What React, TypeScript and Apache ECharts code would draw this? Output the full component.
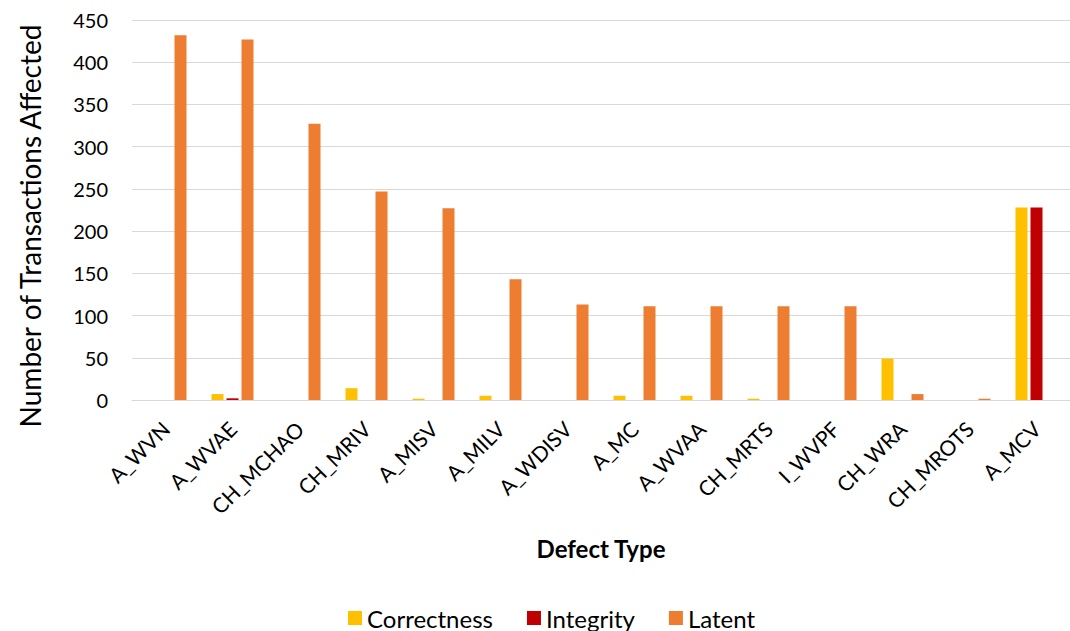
import React, { useEffect, useRef } from "react";
import * as echarts from "echarts";

const categories = ["A_WVN", "A_WVAE", "CH_MCHAO", "CH_MRIV", "A_MISV", "A_MILV", "A_WDISV", "A_MC", "A_WVAA", "CH_MRTS", "I_WVPF", "CH_WRA", "CH_MROTS", "A_MCV"];
const correctness = [0, 7, 0, 14, 1.5, 5, 0, 5, 5, 1.5, 0, 49, 0, 228];
const integrity = [0, 2, 0, 0, 0, 0, 0, 0, 0, 0, 0, 0, 0, 228];
const latent = [432, 427, 327, 247, 227, 143, 113, 111, 111, 111, 111, 7, 1.5, 0];
const yTicks = [0, 50, 100, 150, 200, 250, 300, 350, 400, 450];

const FONT = "Lato";

export default function App() {
  const ref = useRef<HTMLDivElement>(null);
  useEffect(() => {
    if (!ref.current) return;
    const chart = echarts.init(ref.current, null, { renderer: "svg" });
    const barCommon = { type: "bar" as const, barWidth: 12, barGap: "25%" };
    chart.setOption({
      animation: false,
      textStyle: { fontFamily: FONT },
      grid: { left: 132, right: -17, top: 20, bottom: 231, containLabel: false },
      legend: {
        left: 348,
        top: 606,
        padding: 0,
        itemWidth: 14,
        itemHeight: 14,
        itemGap: 34,
        icon: "rect",
        textStyle: { fontFamily: FONT, fontSize: 24, color: "#000" },
        data: ["Correctness", "Integrity", "Latent"],
      },
      xAxis: {
        type: "category",
        data: categories,
        name: "Defect Type",
        nameLocation: "middle",
        nameGap: 136,
        nameTextStyle: { fontFamily: FONT, fontSize: 24, fontWeight: "bold", color: "#000" },
        axisLine: { lineStyle: { color: "#d9d9d9", width: 1 } },
        axisTick: { show: false },
        axisLabel: { rotate: 45, fontSize: 21, color: "#000", margin: 25, interval: 0, fontFamily: FONT },
      },
      yAxis: {
        type: "value",
        min: 0,
        max: 450,
        interval: 50,
        name: "Number of Transactions Affected",
        nameLocation: "middle",
        nameGap: 88,
        nameTextStyle: { fontFamily: FONT, fontSize: 28, color: "#000", padding: [0, 32, 0, 0] },
        axisLine: { show: false },
        axisTick: { show: false },
        axisLabel: {
          fontSize: 20,
          color: "#000",
          margin: 24,
          fontFamily: FONT,
          formatter: (v: number) => (yTicks.includes(v) ? String(v) : ""),
        },
        splitLine: { lineStyle: { color: "#d9d9d9", width: 1 } },
      },
      series: [
        { ...barCommon, name: "Correctness", data: correctness, itemStyle: { color: "#FFC000" } },
        { ...barCommon, name: "Integrity", data: integrity, itemStyle: { color: "#C00000" } },
        { ...barCommon, name: "Latent", data: latent, itemStyle: { color: "#ED7D31" } },
      ],
    });
    return () => chart.dispose();
  }, []);
  return <div ref={ref} style={{ width: 1070, height: 631, position: "absolute", left: 0, top: 0 }} />;
}
